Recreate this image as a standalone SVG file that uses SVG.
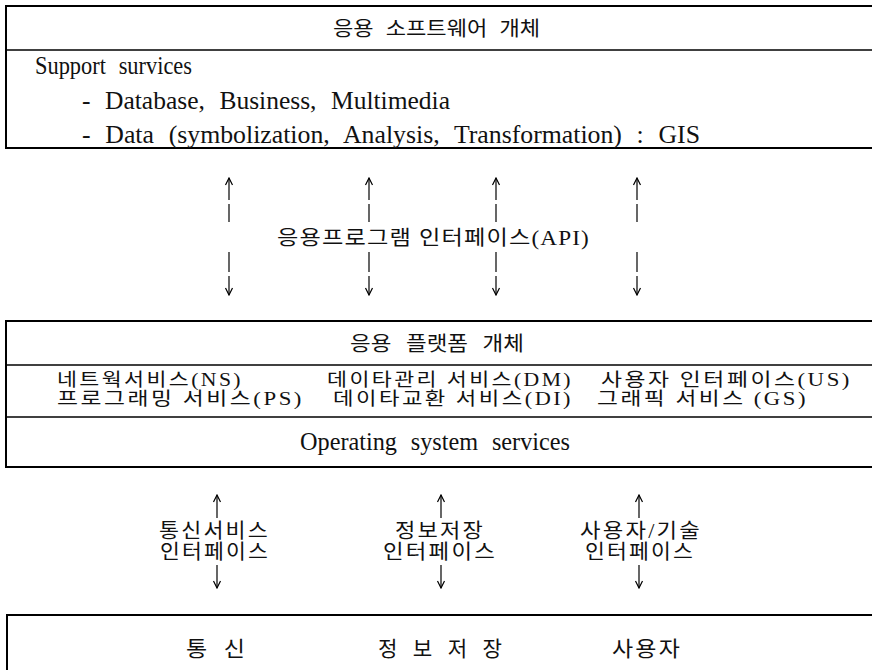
<svg xmlns="http://www.w3.org/2000/svg" width="872" height="670" viewBox="0 0 872 670">
<style>
.box{fill:none;stroke:#000;stroke-width:2}
.div{stroke:#000;stroke-width:1.6}
.ln{stroke:#000;stroke-width:1.2;fill:none}
.ko{font-family:"Liberation Serif","Noto Sans CJK KR",serif;fill:#111;font-size:20px}
.kb{font-family:"Liberation Serif","Noto Sans CJK KR",serif;fill:#111;font-size:21px}
.sv{font-family:"Liberation Serif","Noto Sans CJK KR",serif;fill:#111;font-size:18px;letter-spacing:2px}
.en{font-family:"Liberation Serif","Noto Sans CJK KR",serif;fill:#111;font-size:25px;word-spacing:8px}
</style>
<defs>
<marker id="ah" viewBox="0 0 10 10" refX="9" refY="5" markerWidth="10" markerHeight="10" markerUnits="userSpaceOnUse" orient="auto-start-reverse">
<path d="M2,1.5 L9,5 L2,8.5" fill="none" stroke="#000" stroke-width="1.2"/>
</marker>
</defs>
<rect width="872" height="670" fill="#fff"/>

<g id="app-software">
<rect class="box" x="6" y="6" width="900" height="142"/>
<line class="div" x1="6" y1="50" x2="872" y2="50"/>
<text class="ko" x="333" y="36" word-spacing="6" textLength="207" lengthAdjust="spacingAndGlyphs">응용 소프트웨어 개체</text>
<text class="en" x="35" y="74" word-spacing="0" textLength="157" lengthAdjust="spacingAndGlyphs">Support survices</text>
<text class="en" x="82" y="109" textLength="368" lengthAdjust="spacingAndGlyphs">- Database, Business, Multimedia</text>
<text class="en" x="82" y="143" textLength="618" lengthAdjust="spacingAndGlyphs">- Data (symbolization, Analysis, Transformation)  : GIS</text>
</g>

<g id="api-label">
<text class="ko" x="277" y="245" letter-spacing="1" textLength="313" lengthAdjust="spacingAndGlyphs">응용프로그램 인터페이스(API)</text>
</g>

<g id="app-platform">
<rect class="box" x="6" y="321" width="900" height="146"/>
<line class="div" x1="6" y1="365" x2="872" y2="365"/>
<line class="div" x1="6" y1="417" x2="872" y2="417"/>
<text class="ko" x="350" y="351" word-spacing="8" textLength="174" lengthAdjust="spacingAndGlyphs">응용 플랫폼 개체</text>
<text class="sv" x="57" y="386" textLength="186" lengthAdjust="spacingAndGlyphs">네트웍서비스(NS)</text>
<text class="sv" x="327" y="386" textLength="246" lengthAdjust="spacingAndGlyphs">데이타관리 서비스(DM)</text>
<text class="sv" x="601" y="386" textLength="251" lengthAdjust="spacingAndGlyphs">사용자 인터페이스(US)</text>
<text class="sv" x="57" y="405" textLength="247" lengthAdjust="spacingAndGlyphs">프로그래밍 서비스(PS)</text>
<text class="sv" x="333" y="405" textLength="240" lengthAdjust="spacingAndGlyphs">데이타교환 서비스(DI)</text>
<text class="sv" x="597" y="405" textLength="211" lengthAdjust="spacingAndGlyphs">그래픽 서비스 (GS)</text>
<text class="en" x="300" y="450" word-spacing="6" textLength="270" lengthAdjust="spacingAndGlyphs">Operating system services</text>
</g>

<g id="interface-labels">
<text class="ko" x="159" y="538" letter-spacing="2" textLength="111" lengthAdjust="spacingAndGlyphs">통신서비스</text>
<text class="ko" x="160" y="559" letter-spacing="2" textLength="110" lengthAdjust="spacingAndGlyphs">인터페이스</text>
<text class="ko" x="395" y="538" letter-spacing="2" textLength="90" lengthAdjust="spacingAndGlyphs">정보저장</text>
<text class="ko" x="383" y="559" letter-spacing="2" textLength="114" lengthAdjust="spacingAndGlyphs">인터페이스</text>
<text class="ko" x="580" y="538" letter-spacing="2" textLength="122" lengthAdjust="spacingAndGlyphs">사용자/기술</text>
<text class="ko" x="585" y="559" letter-spacing="2" textLength="110" lengthAdjust="spacingAndGlyphs">인터페이스</text>
</g>

<g id="resources">
<rect class="box" x="7" y="615" width="900" height="100"/>
<text class="kb" x="186" y="656" word-spacing="10" textLength="59" lengthAdjust="spacingAndGlyphs">통 신</text>
<text class="kb" x="378" y="656" word-spacing="10" textLength="124" lengthAdjust="spacingAndGlyphs">정 보 저 장</text>
<text class="kb" x="612" y="656" letter-spacing="2" textLength="70" lengthAdjust="spacingAndGlyphs">사용자</text>
</g>

<g id="connectors">
<line class="ln" x1="229" y1="200" x2="229" y2="178" marker-end="url(#ah)"/>
<line class="ln" x1="229" y1="204" x2="229" y2="222"/>
<line class="ln" x1="229" y1="252" x2="229" y2="272"/>
<line class="ln" x1="229" y1="276" x2="229" y2="295" marker-end="url(#ah)"/>

<line class="ln" x1="369" y1="200" x2="369" y2="178" marker-end="url(#ah)"/>
<line class="ln" x1="369" y1="204" x2="369" y2="222"/>
<line class="ln" x1="369" y1="252" x2="369" y2="272"/>
<line class="ln" x1="369" y1="276" x2="369" y2="295" marker-end="url(#ah)"/>

<line class="ln" x1="496" y1="200" x2="496" y2="178" marker-end="url(#ah)"/>
<line class="ln" x1="496" y1="204" x2="496" y2="222"/>
<line class="ln" x1="496" y1="252" x2="496" y2="272"/>
<line class="ln" x1="496" y1="276" x2="496" y2="295" marker-end="url(#ah)"/>

<line class="ln" x1="637" y1="200" x2="637" y2="178" marker-end="url(#ah)"/>
<line class="ln" x1="637" y1="204" x2="637" y2="222"/>
<line class="ln" x1="637" y1="252" x2="637" y2="272"/>
<line class="ln" x1="637" y1="276" x2="637" y2="295" marker-end="url(#ah)"/>

<line class="ln" x1="217" y1="518" x2="217" y2="495" marker-end="url(#ah)"/>
<line class="ln" x1="217" y1="565" x2="217" y2="588" marker-end="url(#ah)"/>
<line class="ln" x1="441" y1="518" x2="441" y2="495" marker-end="url(#ah)"/>
<line class="ln" x1="441" y1="565" x2="441" y2="588" marker-end="url(#ah)"/>
<line class="ln" x1="639" y1="518" x2="639" y2="495" marker-end="url(#ah)"/>
<line class="ln" x1="639" y1="565" x2="639" y2="588" marker-end="url(#ah)"/>
</g>
</svg>
